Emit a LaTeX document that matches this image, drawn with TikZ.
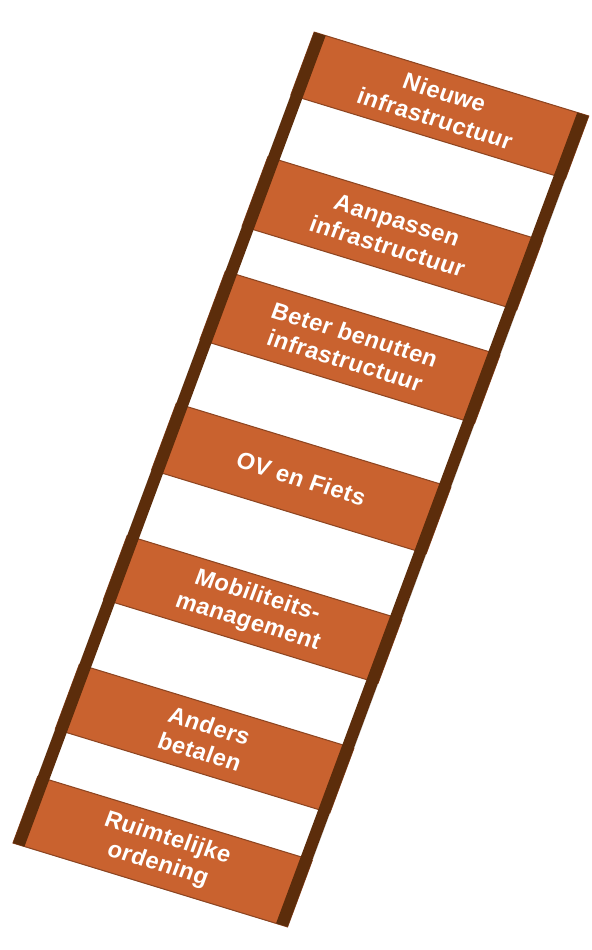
\documentclass[tikz,border=0pt]{standalone}
\usepackage{fontspec}
\usepackage{tikz}
\usetikzlibrary{shadows.blur}
\newfontfamily\rungfont[LetterSpace=2]{Liberation Sans}

\definecolor{rungorange}{HTML}{C9622F}
\definecolor{railbrown}{HTML}{5C2D0B}

\tikzset{
  rung/.style={fill=rungorange, draw=rungorange!70!black, line width=0.3pt},
  rail/.style={fill=railbrown},
  rungtext/.style={text=white, align=center, transform shape,
    font=\rungfont\bfseries\fontsize{6.7}{7.9}\selectfont}
}

\begin{document}
\begin{tikzpicture}

    \useasboundingbox (0,0) rectangle (5.92,9.5);

    % Ladder, tilted and sheared
    \begin{scope}[cm={0.9565,-0.2922,0.3482,0.9374,(0.13,1.07)}]

    % Back of the ladder with a soft shadow
    \fill[white, blur shadow={shadow xshift=0.02, shadow yshift=-0.05,
      shadow blur radius=0.12, shadow opacity=25}] (0,0) rectangle (2.87,8.65);

    % Rungs
    \foreach \lo/\hi/\txt [count=\i] in {
        7.98/8.65/{Nieuwe\\infrastructuur},
        6.58/7.32/{Aanpassen\\infrastructuur},
        5.37/6.10/{Beter benutten\\infrastructuur},
        3.98/4.69/{OV en Fiets},
        2.60/3.28/{Mobiliteits-\\management},
        1.215/1.905/{Anders\\betalen},
        0/0.71/{Ruimtelijke\\ordening}}
    {
        \draw[rung] (0,\lo) rectangle (2.87,\hi);
        \node[rungtext] (rung\i) at (1.435,{(\lo+\hi)/2}) {\txt};
    }

    % Rails
    \fill[rail] (0,0) rectangle (0.12,8.65);
    \fill[rail] (2.75,0) rectangle (2.87,8.65);

    \end{scope}

\end{tikzpicture}
\end{document}
